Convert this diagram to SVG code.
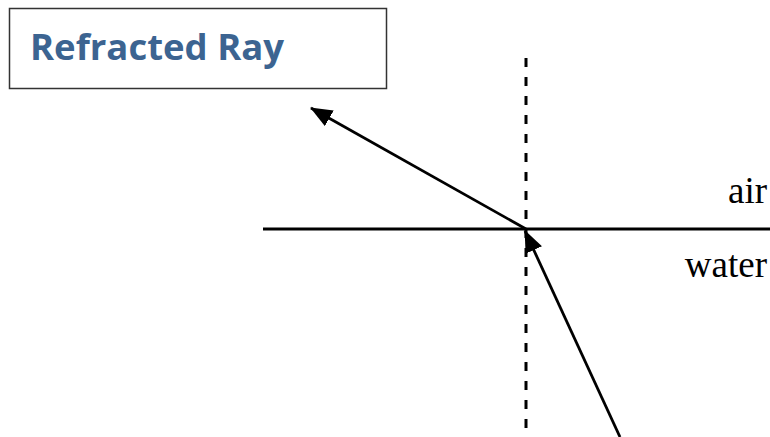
<svg xmlns="http://www.w3.org/2000/svg" width="770" height="437" viewBox="0 0 770 437">
<style>
.ray{stroke:#000;stroke-width:2.8;fill:none}
.lbl{font-family:"Liberation Serif","Times New Roman",serif;font-size:37px;fill:#000;text-anchor:end}
</style>
<defs>
<marker id="arrow" viewBox="0 0 22 18" refX="21" refY="9" markerWidth="22" markerHeight="18" markerUnits="userSpaceOnUse" orient="auto">
<path d="M0,0 L22,9 L0,18 z" fill="#000"/>
</marker>
</defs>
<rect width="770" height="437" fill="#fff"/>
<g id="title">
<rect x="9.5" y="8.5" width="377" height="80" fill="#fff" stroke="#333" stroke-width="1.5"/>
<text x="30" y="60" font-family="'Open Sans',sans-serif" font-weight="bold" font-size="36.5" fill="#3c6491">Refracted Ray</text>
</g>
<g id="connectors">
<line id="normal" x1="526" y1="58" x2="526" y2="437" stroke="#000" stroke-width="3" stroke-dasharray="9 10"/>
<line id="surface" x1="263" y1="229" x2="770" y2="229" stroke="#000" stroke-width="2.8"/>
<line id="refracted" class="ray" x1="526" y1="229" x2="311" y2="108" marker-end="url(#arrow)"/>
<line id="incident" class="ray" x1="620" y1="437" x2="525" y2="231" marker-end="url(#arrow)"/>
</g>
<g id="air"><text class="lbl" x="767" y="203">air</text></g>
<g id="water"><text class="lbl" x="767" y="277">water</text></g>
</svg>
